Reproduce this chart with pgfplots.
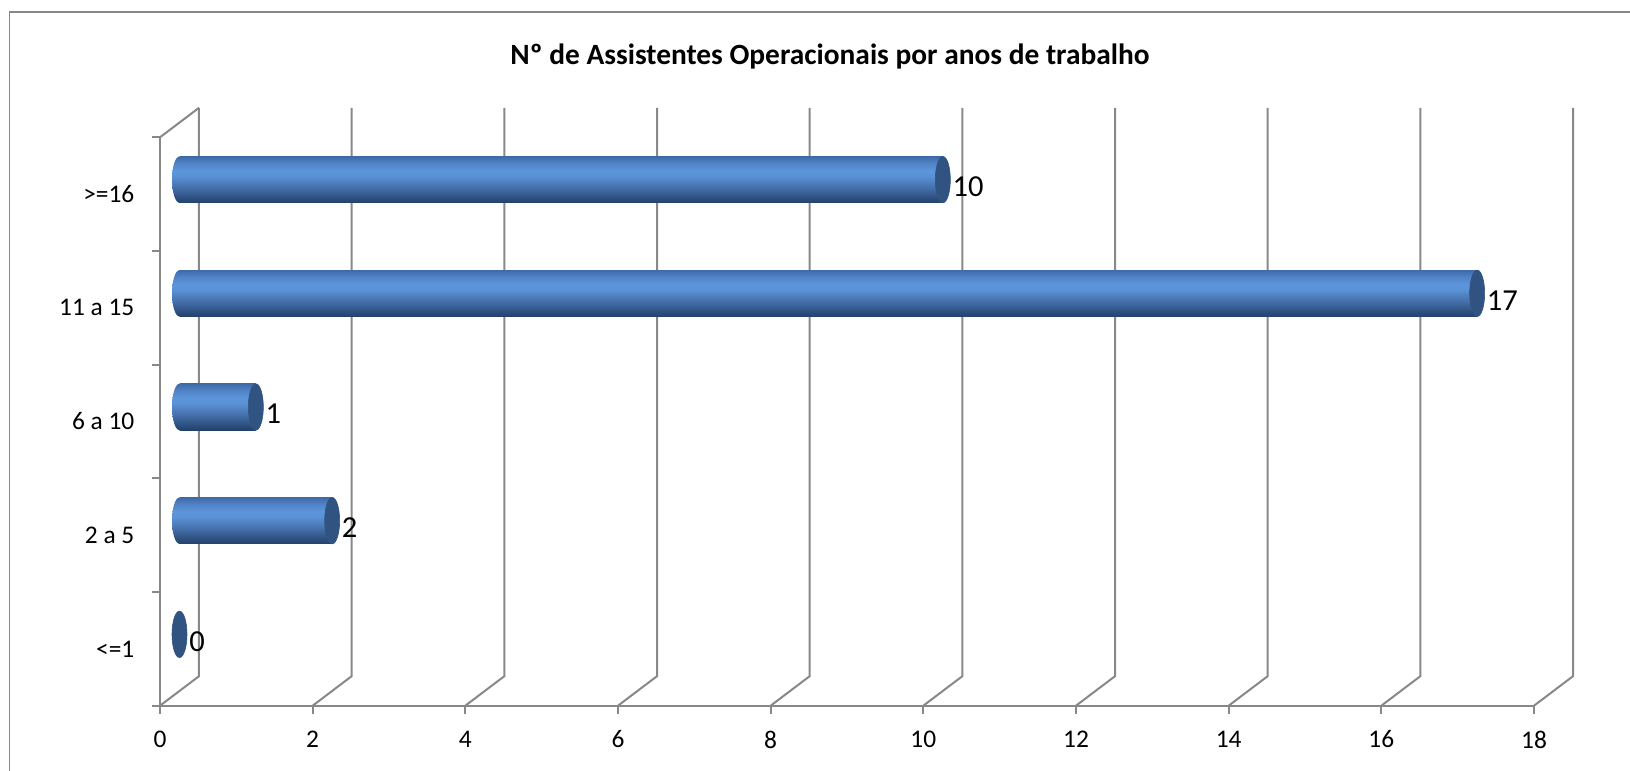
\documentclass[border=0pt]{standalone}
\usepackage{pgfplots}
\pgfplotsset{compat=1.18}
\usepackage{fontspec}
\setmainfont{Carlito}
\usetikzlibrary{shapes.geometric}
\definecolor{gridc}{RGB}{136,136,136}
\definecolor{cA}{RGB}{35,64,106}
\definecolor{cB}{RGB}{48,84,134}
\definecolor{cC}{RGB}{70,113,172}
\definecolor{cD}{RGB}{90,146,214}
\definecolor{cE}{RGB}{92,149,218}
\definecolor{cF}{RGB}{80,130,198}
\definecolor{cG}{RGB}{62,106,168}
\definecolor{capc}{RGB}{49,83,130}
\pgfdeclareverticalshading{cylsh}{100bp}{color(0bp)=(cA); color(25bp)=(cA); color(32bp)=(cB); color(42bp)=(cC); color(54bp)=(cD); color(60bp)=(cE); color(68bp)=(cF); color(75bp)=(cG); color(100bp)=(cG)}
\pgfplotsset{cyl/.style={xbar, bar width=23.2pt, bar shift=0pt, draw=none, shading=cylsh}}
\begin{document}
\begin{tikzpicture}
\useasboundingbox (0,0) rectangle (815pt,385.5pt);
\draw[gridc, line width=0.9pt] (4.75pt,379.5pt) rectangle (830pt,-20pt);
\node[font=\bfseries\fontsize{14.7}{17}\selectfont, anchor=base] at (415pt,353.25pt) {Nº de Assistentes Operacionais por anos de trabalho};
\begin{axis}[at={(80pt,32.65pt)}, anchor=south west, scale only axis,
  width=687pt, height=284.2pt,
  xmin=0, xmax=18, ymin=-0.5, ymax=4.5, clip=false,
  axis x line*=bottom, axis y line*=left,
  axis line style={gridc, line width=1pt, -},
  xtick={0,2,...,18}, ytick={-0.5,0.5,...,4.5}, yticklabels={},
  extra y ticks={0,1,2,3,4},
  extra y tick labels={{<=1},{2 a 5},{6 a 10},{11 a 15},{>=16}},
  extra y tick style={major tick length=0pt, yticklabel style={xshift=-9.3pt}},
  tick align=outside, major tick length=4pt,
  tick style={gridc, line width=1pt},
  ticklabel style={font=\fontsize{12.7}{15}\selectfont},
  xticklabel style={yshift=-5pt},
  /pgf/number format/assume math mode=true,
]
\pgfplotsinvokeforeach{0,2,4,6,8,10,12,14,16,18}{
  \draw[gridc, line width=1pt] (axis cs:#1,-0.5) -- ([shift={(19.5pt,14.75pt)}]axis cs:#1,-0.5) -- ([shift={(19.5pt,14.75pt)}]axis cs:#1,4.5);
}
\draw[gridc, line width=1pt] (axis cs:0,4.5) -- ([shift={(19.5pt,14.75pt)}]axis cs:0,4.5);
\end{axis}
\begin{axis}[at={(89.75pt,39.9pt)}, anchor=south west, scale only axis,
  width=687pt, height=284.2pt,
  xmin=0, xmax=18, ymin=-0.5, ymax=4.5, clip=false, hide axis,
  /pgf/number format/assume math mode=true,
]
% left ends of the cylinders
\addplot[draw=none, nodes near coords={},
  every node near coord/.append style={ellipse, inner sep=0pt, minimum width=7.5pt, minimum height=23.2pt,
    shading=cylsh, draw=none, anchor=center}]
  coordinates {(0,1) (0,2) (0,3) (0,4)};
% bodies, one per bar
\addplot[cyl] coordinates {(2,1)};
\addplot[cyl] coordinates {(1,2)};
\addplot[cyl] coordinates {(17,3)};
\addplot[cyl] coordinates {(10,4)};
% caps and labels
\addplot[only marks, mark=*, mark size=11.6pt,
  mark options={xscale=0.3233, fill=capc, draw=capc, line width=0.3pt},
  point meta=x, nodes near coords,
  every node near coord/.append style={anchor=west, inner sep=0pt, xshift=4.75pt, yshift=-3.5pt,
    font=\fontsize{15.25}{18}\selectfont, text=black}]
  coordinates {(0,0) (2,1) (1,2) (17,3) (10,4)};
\end{axis}
\end{tikzpicture}
\end{document}
